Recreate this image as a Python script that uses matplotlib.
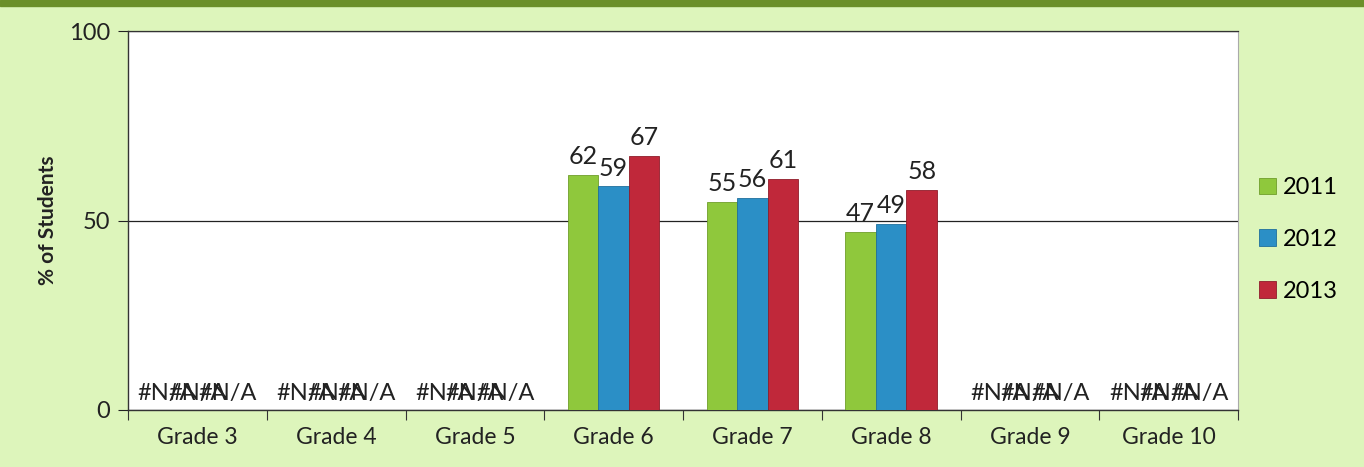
import numpy as np
import matplotlib.pyplot as plt
from matplotlib.patches import Rectangle

plt.rcParams['font.family'] = ['Lato', 'DejaVu Sans']

grades = ['Grade 3', 'Grade 4', 'Grade 5', 'Grade 6', 'Grade 7', 'Grade 8', 'Grade 9', 'Grade 10']
years = ['2011', '2012', '2013']
y2011 = [np.nan, np.nan, np.nan, 62, 55, 47, np.nan, np.nan]
y2012 = [np.nan, np.nan, np.nan, 59, 56, 49, np.nan, np.nan]
y2013 = [np.nan, np.nan, np.nan, 67, 61, 58, np.nan, np.nan]
colors = ['#8fc83c', '#2b8fc6', '#c0283a']
edges = ['#6f9e2a', '#1f6f9c', '#8f1c2a']

fig = plt.figure(figsize=(13.64, 4.67), dpi=100)
fig.patch.set_facecolor('#ddf5bb')
# dark green band along the top
fig.add_artist(Rectangle((0, 0.988), 1, 0.012, transform=fig.transFigure,
                         color='#6b8f2a', zorder=0))
ax = fig.add_axes([128 / 1364, 1 - 410 / 467, 1110 / 1364, 379 / 467])
ax.set_facecolor('white')

x = np.arange(len(grades))
w = 0.22
for i, (vals, c, ec, yr) in enumerate(zip([y2011, y2012, y2013], colors, edges, years)):
    pos = x + (i - 1) * w
    ax.bar(pos, np.nan_to_num(vals), w, color=c, edgecolor=ec, linewidth=0.6,
           label=yr, zorder=3)
    for p, v in zip(pos, vals):
        if np.isnan(v):
            ax.text(p, 1.5, '#N/A', ha='center', va='bottom', fontsize=17, color='#222222', zorder=4)
        else:
            ax.text(p, v + 1.8, f'{v:.0f}', ha='center', va='bottom', fontsize=18, color='#222222', zorder=4)

ax.set_xlim(-0.5, len(grades) - 0.5)
ax.set_ylim(0, 100)
ax.set_yticks([0, 50, 100])
ax.set_xticks(np.arange(len(grades) + 1) - 0.5, minor=False)
ax.set_xticklabels([])
ax.set_xticks(x, minor=True)
ax.set_xticklabels(grades, minor=True, fontsize=16.5, color='#222222')
ax.tick_params(axis='x', which='minor', length=0, pad=12)
ax.tick_params(axis='x', which='major', length=7, direction='out', color='#333333')
ax.tick_params(axis='y', length=7, labelsize=17, colors='#222222', pad=6)
ax.yaxis.grid(True, color='#222222', linewidth=0.9, zorder=1)
ax.set_axisbelow(True)
ax.spines['top'].set_color('#333333')
ax.spines['top'].set_linewidth(0.9)
ax.spines['right'].set_color('#aaaaaa')
ax.spines['right'].set_linewidth(0.8)
for s in ['left', 'bottom']:
    ax.spines[s].set_color('#333333')
    ax.spines[s].set_linewidth(1.0)
ax.set_ylabel('% of Students', fontsize=15, fontweight='bold', color='#222222', labelpad=8)

ax.legend(loc='center left', bbox_to_anchor=(1.0, 0.45), frameon=False, fontsize=17,
          handlelength=0.7, handleheight=0.7, handletextpad=0.3, labelspacing=1.3)

fig.savefig('out.png', dpi=100, facecolor=fig.get_facecolor())
